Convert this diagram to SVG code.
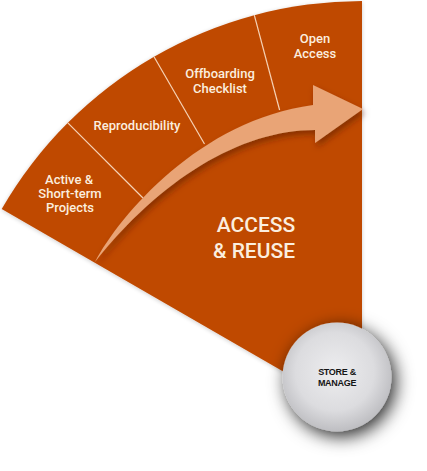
<svg xmlns="http://www.w3.org/2000/svg" width="427" height="471" viewBox="0 0 427 471">
  <defs>
    <style>
      .seg { font-family: Roboto, "Liberation Sans", Arial, sans-serif; font-size: 13px; font-weight: 500; fill: #FBEEDF; text-anchor: middle; }
      .title { font-family: Roboto, "Liberation Sans", Arial, sans-serif; font-size: 21px; font-weight: 500; fill: #FBEEDF; text-anchor: middle; }
      .core { font-family: "Liberation Sans", Arial, sans-serif; font-size: 9px; font-weight: bold; fill: #151515; text-anchor: middle; letter-spacing: -0.3px; }
      .divider { stroke: #F6D3B6; stroke-width: 1.2; fill: none; }
    </style>
    <radialGradient id="sphere" cx="0.48" cy="0.45" r="0.6">
      <stop offset="0" stop-color="#EDEDEF"/>
      <stop offset="0.6" stop-color="#DCDCDF"/>
      <stop offset="1" stop-color="#B6B6BA"/>
    </radialGradient>
    <filter id="wedgeShadow" x="-10%" y="-10%" width="120%" height="120%">
      <feGaussianBlur in="SourceAlpha" stdDeviation="2"/>
      <feOffset dx="0" dy="1" result="b"/>
      <feComponentTransfer><feFuncA type="linear" slope="0.2"/></feComponentTransfer>
      <feMerge><feMergeNode/><feMergeNode in="SourceGraphic"/></feMerge>
    </filter>
    <filter id="arrowShadow" x="-20%" y="-20%" width="140%" height="140%">
      <feGaussianBlur in="SourceAlpha" stdDeviation="3"/>
      <feOffset dx="2" dy="4" result="b"/>
      <feFlood flood-color="#5A1E00" flood-opacity="0.55"/>
      <feComposite in2="b" operator="in"/>
      <feMerge><feMergeNode/><feMergeNode in="SourceGraphic"/></feMerge>
    </filter>
    <filter id="sphereShadow" x="-50%" y="-50%" width="200%" height="200%">
      <feGaussianBlur in="SourceAlpha" stdDeviation="9"/>
      <feOffset dx="4" dy="5" result="b"/>
      <feFlood flood-color="#000000" flood-opacity="0.85"/>
      <feComposite in2="b" operator="in"/>
      <feMerge><feMergeNode/><feMergeNode in="SourceGraphic"/></feMerge>
    </filter>
  </defs>

  <!-- Wedge: 60 degree sector, apex (362,417), radius 416 -->
  <g id="access-reuse">
    <path d="M362 417 L1.7 209 A416 416 0 0 1 362 1 Z" fill="#BF4A06" filter="url(#wedgeShadow)"/>
    <text class="title" x="256" y="232">ACCESS</text>
    <text class="title" x="254" y="258">&amp; REUSE</text>
  </g>

  <!-- Radial dividers between the outer bands -->
  <g id="connectors">
    <line class="divider" x1="67.8" y1="122.8" x2="143" y2="198"/>
    <line class="divider" x1="154" y1="56.7" x2="204.5" y2="144"/>
    <line class="divider" x1="254.3" y1="15.2" x2="279.6" y2="110"/>
  </g>

  <g id="active-projects">
    <text class="seg" x="69" y="184">Active &amp;</text>
    <text class="seg" x="70" y="198">Short-term</text>
    <text class="seg" x="70" y="212">Projects</text>
  </g>
  <g id="reproducibility">
    <text class="seg" x="137" y="130">Reproducibility</text>
  </g>
  <g id="offboarding">
    <text class="seg" x="220" y="78">Offboarding</text>
    <text class="seg" x="220" y="93">Checklist</text>
  </g>
  <g id="open-access">
    <text class="seg" x="315" y="43">Open</text>
    <text class="seg" x="315" y="58">Access</text>
  </g>

  <!-- Curved progress arrow -->
  <g id="flow-arrow" filter="url(#arrowShadow)">
    <path d="M95 262 C120 215 200 120 313 105 L313 85 L363 109 L315 143 L315 130 C240 130 160 180 95 262 Z" fill="#E9A476"/>
  </g>

  <g id="store-manage">
    <circle cx="337" cy="377" r="54.5" fill="url(#sphere)" filter="url(#sphereShadow)"/>
    <text class="core" x="337" y="375">STORE &amp;</text>
    <text class="core" x="337" y="385.5">MANAGE</text>
  </g>
</svg>
